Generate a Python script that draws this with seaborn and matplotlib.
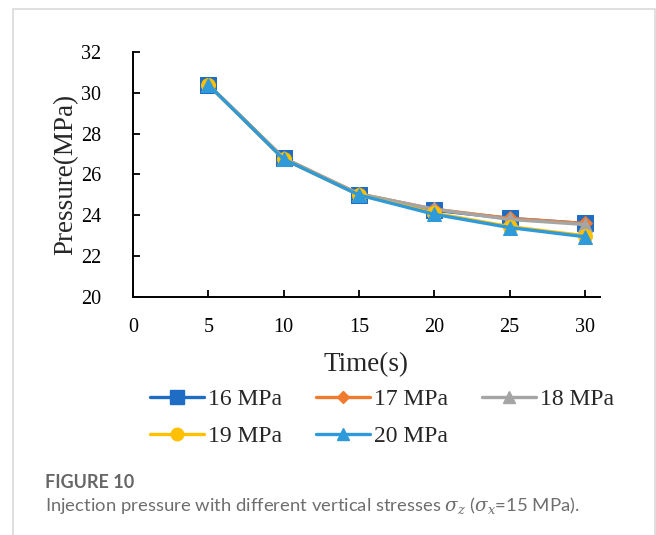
import matplotlib
matplotlib.use("Agg")
import matplotlib.pyplot as plt
import seaborn as sns
import pandas as pd
from matplotlib.lines import Line2D
from matplotlib.patches import Rectangle

# ---- data ----
time_s = [5, 10, 15, 20, 25, 30]
p_16 = [30.40, 26.80, 25.00, 24.25, 23.85, 23.60]
p_17 = [30.40, 26.80, 25.05, 24.30, 23.85, 23.60]
p_18 = [30.40, 26.80, 25.05, 24.30, 23.80, 23.55]
p_19 = [30.40, 26.75, 25.00, 24.10, 23.45, 23.00]
p_20 = [30.40, 26.75, 25.00, 24.05, 23.40, 22.95]
labels = ["16 MPa", "17 MPa", "18 MPa", "19 MPa", "20 MPa"]
series = [p_16, p_17, p_18, p_19, p_20]
x_ticks = [0, 5, 10, 15, 20, 25, 30]
y_ticks = [20, 22, 24, 26, 28, 30, 32]

colors = ["#1F6CC4", "#F07A2E", "#A5A5A5", "#FFC000", "#2E9ADA"]
markers = ["s", "D", "^", "o", "^"]
msizes = [11.5, 7, 10, 10, 10]

sns.set_theme(style="white")
plt.rcParams["font.family"] = ["Liberation Serif", "DejaVu Serif"]
plt.rcParams["mathtext.fontset"] = "dejavuserif"

fig = plt.figure(figsize=(6.56, 5.35), dpi=100)
ax = fig.add_axes([0.2027, 0.4449, 0.7119, 0.4579])

rows = []
for lab, vals in zip(labels, series):
    for t, v in zip(time_s, vals):
        rows.append({"Time": t, "Pressure": v, "Stress": lab})
df = pd.DataFrame(rows)

for lab, c, m, ms in zip(labels, colors, markers, msizes):
    sub = df[df["Stress"] == lab]
    sns.lineplot(data=sub, x="Time", y="Pressure", ax=ax, color=c, lw=2.4,
                 marker=m, markersize=ms, markeredgecolor=c, legend=False)

ax.set_xlim(0, 31)
ax.set_ylim(20, 32)
ax.set_xticks(x_ticks)
ax.set_yticks(y_ticks)
ax.tick_params(axis="both", direction="in", length=5, width=1.3,
               labelsize=14.5, colors="black", left=True, bottom=True)
ax.tick_params(axis="y", pad=23)
ax.tick_params(axis="x", pad=15)
for s in ["top", "right"]:
    ax.spines[s].set_visible(False)
for s in ["left", "bottom"]:
    ax.spines[s].set_color("black")
    ax.spines[s].set_linewidth(1.4)
ax.set_xlabel("Time(s)", fontsize=19.5, labelpad=11)
ax.set_ylabel("Pressure(MPa)", fontsize=19.5, labelpad=2)

handles = [Line2D([0], [0], color=c, lw=2.4, marker=m, markersize=ms * 0.9,
                  markeredgecolor=c) for c, m, ms in zip(colors, markers, msizes)]
order = [0, 3, 1, 4, 2]
fig.legend([handles[i] for i in order], [labels[i] for i in order],
           loc="upper left", bbox_to_anchor=(0.2287, 0.2735),
           ncol=3, frameon=False, fontsize=17, handlelength=2.3,
           handletextpad=0.15, columnspacing=1.45, labelspacing=0.65,
           borderpad=0, borderaxespad=0)

# frame of the figure panel
fig.patches.append(Rectangle((13 / 656, -0.05), (655 - 13) / 656, 1.05 - 9 / 535,
                             transform=fig.transFigure, fill=False,
                             edgecolor="#d9d9d9", lw=1.2))

cap_font = ["Liberation Sans Narrow", "Lato", "DejaVu Sans"]
fig.text(45 / 656, 1 - 482 / 535, "FIGURE 10", fontsize=13, color="#666666",
         family=cap_font, fontweight="bold", va="center")
fig.text(45 / 656, 1 - 506 / 535,
         r"Injection pressure with different vertical stresses $\sigma_z$ ($\sigma_x$=15 MPa).",
         fontsize=13.3, color="#6e6e6e", family=cap_font, va="center")

fig.savefig("out.png", dpi=100)
